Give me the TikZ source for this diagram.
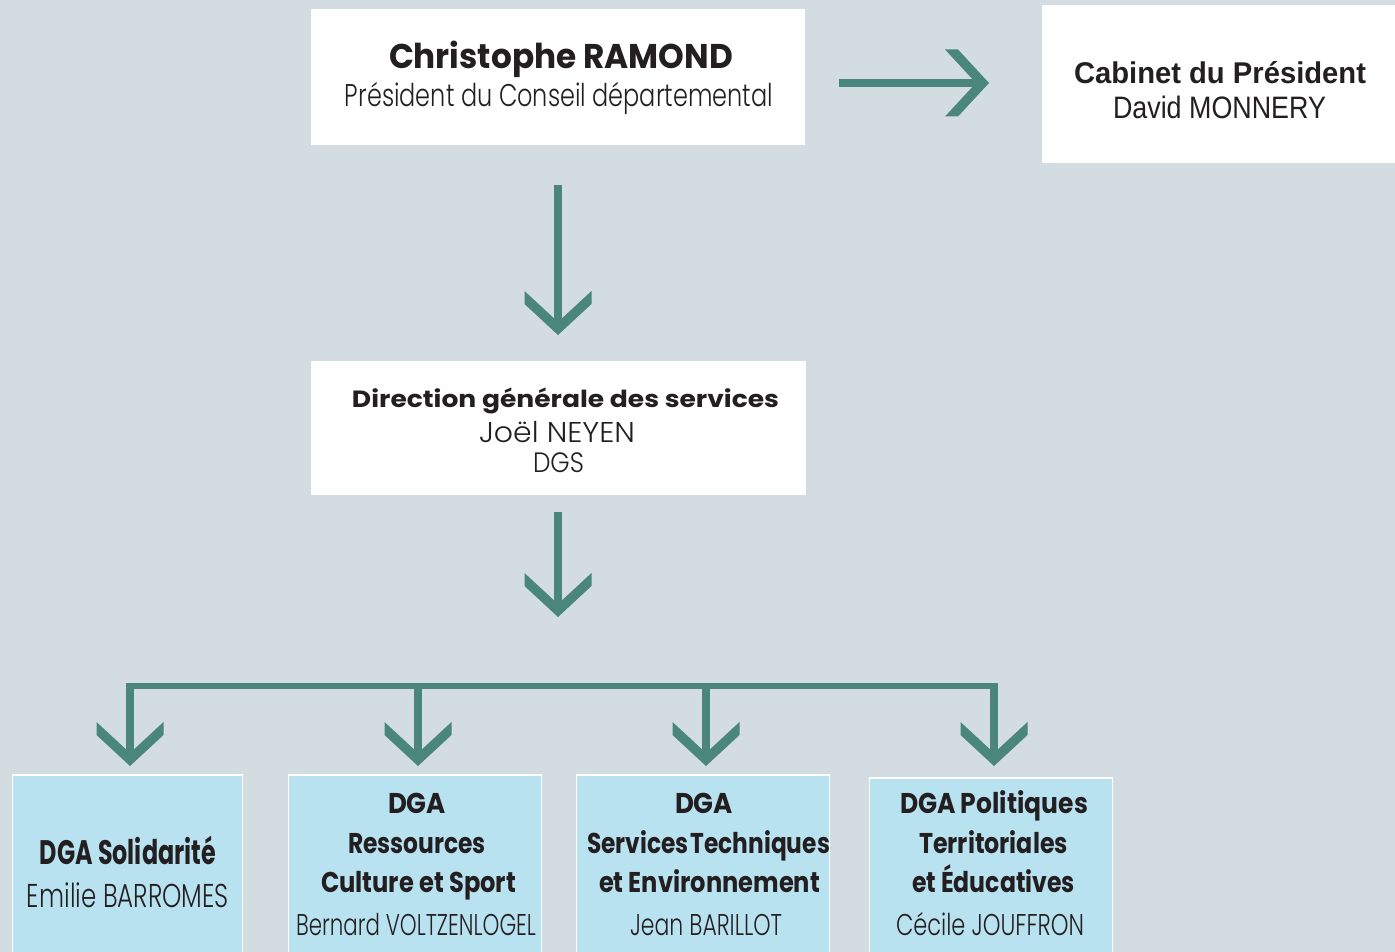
\documentclass[tikz,border=0pt]{standalone}
\usepackage{fontspec}
\usepackage{graphicx}
\usetikzlibrary{calc}
\newfontfamily\futu{Poppins}
\newfontfamily\futl{Poppins Light}
\newfontfamily\grot{Liberation Sans}
\definecolor{bgc}{HTML}{D3DCE0}
\definecolor{tealc}{HTML}{4A867C}
\definecolor{boxblue}{HTML}{B9E2F1}
\definecolor{ink}{HTML}{231F20}
\newcommand{\fitw}[2]{\resizebox{#1pt}{\height}{#2}}
\newcommand{\fs}[1]{\fontsize{#1}{#1}\selectfont}
\tikzset{
  whitebox/.style={fill=white, draw=none, inner sep=0pt},
  bluebox/.style={fill=boxblue, draw=white, line width=1.5pt, inner sep=0pt},
  txt/.style={inner sep=0pt, outer sep=0pt, text=ink, anchor=base},
  stem/.style={draw=tealc, line width=8pt, line cap=butt},
  busline/.style={draw=tealc, line width=6pt, line cap=butt},
  chevdown/.pic={\fill[tealc] (-33.5,-44) -- (-33.5,-31) -- (0,0) -- (33.5,-31) -- (33.5,-44) -- (0,-13) -- cycle;},
  chevright/.pic={\fill[tealc] (-44,-33.5) -- (-31,-33.5) -- (0,0) -- (-31,33.5) -- (-44,33.5) -- (-13,0) -- cycle;}
}
\begin{document}
\begin{tikzpicture}[x=1pt,y=-1pt]
\useasboundingbox (0,0) rectangle (1395,952);
\clip (0,0) rectangle (1395,952);
\fill[bgc] (0,0) rectangle (1395,952);

% boxes
\node[whitebox, minimum width=494pt, minimum height=136pt] (pres) at (558,77) {};
\node[whitebox, minimum width=360pt, minimum height=158pt] (cab) at (1222,84) {};
\node[whitebox, minimum width=495pt, minimum height=134pt] (dgs) at (558.5,428) {};
\node[bluebox, minimum width=230pt, minimum height=200pt] (b1) at (127.5,875) {};
\node[bluebox, minimum width=253pt, minimum height=200pt] (b2) at (415,875) {};
\node[bluebox, minimum width=253pt, minimum height=200pt] (b3) at (703,875) {};
\node[bluebox, minimum width=243pt, minimum height=196pt] (b4) at (991,876) {};

% texts: president
\node[txt] (presA) at (561,69) {\futu\bfseries\fs{34.3}\fitw{344}{Christophe RAMOND}};
\node[txt] (presB) at (559,107) {\futl\fs{31.4}\fitw{428}{Président du Conseil départemental}};
% cabinet
\node[txt] (cabA) at (1220,84) {\grot\bfseries\fs{30}\fitw{292}{Cabinet du Président}};
\node[txt] (cabB) at (1219.5,119) {\grot\fs{31}\fitw{213}{David MONNERY}};
% DGS
\node[txt] (dgsA) at (565.5,407) {\futu\bfseries\fs{23.5}\fitw{427}{Direction générale des services}};
\node[txt] (dgsB) at (557,442) {\futl\fs{28.6}\fitw{156}{Joël NEYEN}};
\node[txt] (dgsC) at (558.5,472) {\futl\fs{28}\fitw{51}{DGS}};
% bottom 1
\node[txt] (b1A) at (128,864) {\futu\bfseries\fs{34}\fitw{176}{DGA Solidarité}};
\node[txt] (b1B) at (128,907) {\futl\fs{33}\fitw{202}{Emilie BARROMES}};
% bottom 2
\node[txt] (b2A) at (417,813) {\futu\bfseries\fs{28.6}\fitw{58}{DGA}};
\node[txt] (b2B) at (417,853) {\futu\bfseries\fs{28.6}\fitw{138}{Ressources}};
\node[txt] (b2C) at (418.5,892) {\futu\bfseries\fs{28.6}\fitw{195}{Culture et Sport}};
\node[txt] (b2D) at (416,935) {\futl\fs{30}\fitw{240}{Bernard VOLTZENLOGEL}};
% bottom 3
\node[txt] (b3A) at (704,813) {\futu\bfseries\fs{28.6}\fitw{58}{DGA}};
\node[txt] (b3B) at (708.5,853) {\futu\bfseries\fs{28.6}\fitw{243}{Services\hspace{0.1em}Techniques}};
\node[txt] (b3C) at (709.5,892) {\futu\bfseries\fs{28.6}\fitw{221}{et Environnement}};
\node[txt] (b3D) at (706,935) {\futl\fs{30}\fitw{152}{Jean BARILLOT}};
% bottom 4
\node[txt] (b4A) at (994,813) {\futu\bfseries\fs{28.6}\fitw{188}{DGA Politiques}};
\node[txt] (b4B) at (993.5,853) {\futu\bfseries\fs{28.6}\fitw{149}{Territoriales}};
\node[txt] (b4C) at (993.5,892) {\futu\bfseries\fs{28.6}\fitw{163}{et Éducatives}};
\node[txt] (b4D) at (990,935) {\futl\fs{30}\fitw{188}{Cécile JOUFFRON}};

% connectors
\coordinate (hs) at (839,83);
\coordinate (ht) at (989,83);
\draw[stem] (hs) -- ($(ht)+(-10,0)$);
\pic at (ht) {chevright};

\coordinate (v1s) at (558,185);
\coordinate (v1t) at (558,335);
\draw[stem] (v1s) -- ($(v1t)+(0,-10)$);
\pic at (v1t) {chevdown};

\coordinate (v2s) at (558,512);
\coordinate (v2t) at (558,617);
\draw[stem] (v2s) -- ($(v2t)+(0,-10)$);
\pic at (v2t) {chevdown};

\coordinate (bus1) at (130,686);
\coordinate (bus2) at (418,686);
\coordinate (bus3) at (706,686);
\coordinate (bus4) at (994,686);
\coordinate (tip1) at (130,766);
\coordinate (tip2) at (418,766);
\coordinate (tip3) at (706,766);
\coordinate (tip4) at (994,766);
\draw[busline] ($(bus1)+(-4,0)$) -- ($(bus4)+(4,0)$);
\foreach \i in {1,2,3,4}{
  \draw[stem] ($(bus\i)+(0,-3)$) -- ($(tip\i)+(0,-10)$);
  \pic at (tip\i) {chevdown};
}
\end{tikzpicture}
\end{document}
